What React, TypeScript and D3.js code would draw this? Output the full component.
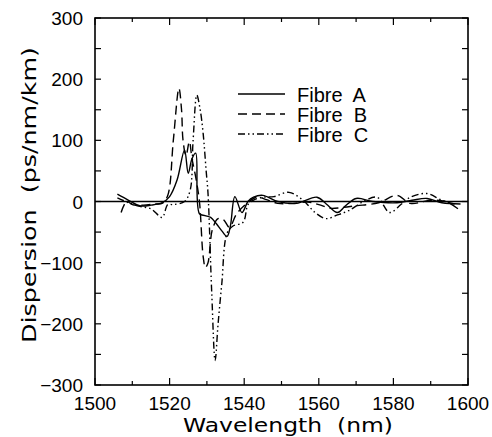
import React from "react";
import * as d3 from "d3";

const fibreA: [number, number][] = [
  [1506, 12], [1509, 2], [1512, -7], [1515, -6], [1518, -2], [1520, 8], [1522, 35], [1524, 84], [1525, 46],
  [1526, 70], [1527, 79], [1528, -20], [1529.5, -23], [1531, -26], [1532.5, -36], [1534, -48], [1535.4, -57],
  [1536.3, -40], [1537.5, 8], [1539.4, -18], [1541, 0], [1542.5, 7], [1545, 10], [1549, 0], [1554, -3],
  [1559.5, 7], [1562, -4], [1565, -18], [1567, -8], [1570, 5], [1574.5, 0], [1581, -2], [1585, 2], [1589, 5],
  [1593, -2], [1598, -4],
];
const fibreB: [number, number][] = [
  [1507, -18], [1508.5, 0], [1510, -5], [1513, -6], [1516, -4], [1518, -3], [1519.5, 10], [1521, 100],
  [1522.5, 185], [1523.2, 150], [1523.6, 100], [1524.4, 75], [1525.3, 98], [1526, 70], [1527, 40], [1528, 0],
  [1529, -90], [1529.6, -108], [1530.3, -100], [1531.5, -45], [1533, -28], [1534.5, -30], [1536, -42],
  [1538, -20], [1540.7, -3], [1543.4, 7], [1546, 3], [1549, -3], [1553, -3], [1557, -1], [1560, -5],
  [1563, -11], [1566, -10], [1570, -7], [1576, -2], [1581, 10], [1584.5, -3], [1590, 2], [1594, 0], [1598, -15],
];
const fibreC: [number, number][] = [
  [1506, 6], [1509, -2], [1512, -8], [1515, -12], [1518, -26], [1519.5, -5], [1521, -5], [1524, 0],
  [1525.5, 18], [1526.3, 100], [1527.3, 174], [1528.2, 150], [1529, 111], [1529.8, 50], [1530.3, 13],
  [1531.3, -150], [1532.2, -260], [1533, -200], [1534, -134], [1535.4, -52], [1537, -40], [1539.7, -34],
  [1541, -5], [1542.4, 2], [1545, 7], [1548, 8], [1552, 15], [1555.8, 2], [1559, -18], [1562, -28],
  [1565, -22], [1568, -15], [1572, 0], [1575.6, 7], [1579, -18], [1582, -5], [1584.5, 7], [1589, 13],
  [1593, 2], [1597, -5],
];

const seriesNames = ["Fibre  A", "Fibre  B", "Fibre  C"];
const xTickLabels = [1500, 1520, 1540, 1560, 1580, 1600];
const yTickLabels = [-300, -200, -100, 0, 100, 200, 300];

export default function App() {
  const W = 492, H = 437;
  const L = 95, R = 468, T = 18, B = 385;
  const x = d3.scaleLinear().domain([1500, 1600]).range([L, R]);
  const y = d3.scaleLinear().domain([-300, 300]).range([B, T]);
  const line = d3.line<[number, number]>().x(d => x(d[0])).y(d => y(d[1])).curve(d3.curveCatmullRom.alpha(0.5));
  const dashes = [null, "9,5", "7,3,1.5,3,1.5,3"];
  const data = [fibreA, fibreB, fibreC];
  const xMinor = d3.range(1500, 1601, 10);
  const yMinor = d3.range(-300, 301, 50);
  const font = "Liberation Sans, Arial, sans-serif";
  const labelFont = "DejaVu Sans, sans-serif";
  const fmt = (v: number) => (v < 0 ? "\u2212" + Math.abs(v) : String(v));
  return (
    <svg width={W} height={H} style={{ position: "absolute", left: 0, top: 0, background: "#fff" }}>
      <rect x={L} y={T} width={R - L} height={B - T} fill="none" stroke="#000" strokeWidth={1.6} />
      {xMinor.map(v => {
        const major = v % 20 === 0;
        const len = major ? 7 : 4;
        return (
          <g key={"x" + v}>
            <line x1={x(v)} x2={x(v)} y1={B} y2={B - len} stroke="#000" strokeWidth={1.2} />
            <line x1={x(v)} x2={x(v)} y1={T} y2={T + len} stroke="#000" strokeWidth={1.2} />
          </g>
        );
      })}
      {yMinor.map(v => (
        <g key={"y" + v}>
          <line x1={L} x2={L + 6} y1={y(v)} y2={y(v)} stroke="#000" strokeWidth={1.2} />
          <line x1={R} x2={R - 6} y1={y(v)} y2={y(v)} stroke="#000" strokeWidth={1.2} />
        </g>
      ))}
      {xTickLabels.map(v => (
        <text key={"xl" + v} x={x(v)} y={410} textAnchor="middle" fontFamily={font} fontSize={19}>{v}</text>
      ))}
      {yTickLabels.map(v => (
        <text key={"yl" + v} x={83} y={y(v) + 7} textAnchor="end" fontFamily={font} fontSize={19}>{fmt(v)}</text>
      ))}
      <text x={183} y={432} fontFamily={labelFont} fontSize={19} textLength={210} lengthAdjust="spacingAndGlyphs"
        style={{ whiteSpace: "pre" }}>{"Wavelength  (nm)"}</text>
      <text transform="translate(36,343) rotate(-90)" fontFamily={labelFont} fontSize={20} textLength={296}
        lengthAdjust="spacingAndGlyphs" style={{ whiteSpace: "pre" }}>{"Dispersion  (ps/nm/km)"}</text>
      <line x1={L} x2={R} y1={y(0)} y2={y(0)} stroke="#000" strokeWidth={1.3} />
      {data.map((d, i) => (
        <path key={"s" + i} d={line(d) || ""} fill="none" stroke="#000" strokeWidth={1.4}
          strokeDasharray={dashes[i] || undefined} />
      ))}
      {seriesNames.map((n, i) => (
        <g key={"lg" + i}>
          <line x1={238} x2={285} y1={94 + i * 20} y2={94 + i * 20} stroke="#000" strokeWidth={1.4}
            strokeDasharray={dashes[i] || undefined} />
          <text x={297} y={102 + i * 20} fontFamily={font} fontSize={20} style={{ whiteSpace: "pre" }}>{n}</text>
        </g>
      ))}
    </svg>
  );
}
